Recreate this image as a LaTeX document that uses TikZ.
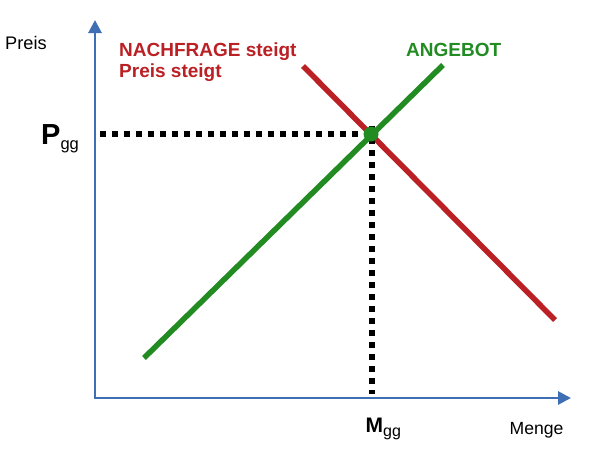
\documentclass[tikz,border=0pt]{standalone}
\usepackage{fontspec}
\setmainfont{Liberation Sans}
\usetikzlibrary{arrows.meta}
\definecolor{axisblue}{RGB}{62,110,180}
\definecolor{dred}{RGB}{186,32,36}
\definecolor{sgreen}{RGB}{34,139,34}
\begin{document}
\begin{tikzpicture}[x=1pt,y=-1pt,
  axis/.style={draw=axisblue,line width=2.8pt,-{Triangle[width=13pt,length=13pt]}},
  curve/.style={line width=5.5pt},
  dots/.style={draw=black,line width=5.8pt,dash pattern=on 6pt off 6pt},
  lbl/.style={inner sep=0pt,anchor=base west},
  redlbl/.style={lbl,font=\bfseries\fontsize{19}{21}\selectfont,text=dred}]
\useasboundingbox (0,0) rectangle (600,448);
\coordinate (O) at (95,398);
\coordinate (ytip) at (95,20);
\coordinate (xtip) at (571,398);
\draw[axis] (O) -- (ytip);
\draw[axis] ([xshift=-1.4pt]O) -- (xtip);
% demand
\coordinate (d1) at (303,66);
\coordinate (d2) at (555,320);
\draw[curve,dred] (d1) -- (d2);
% supply
\coordinate (s1) at (144,358);
\coordinate (s2) at (443,65);
\draw[curve,sgreen] (s1) -- (s2);
% equilibrium
\coordinate (E) at (371,134);
\coordinate (Py) at (100,134);
\coordinate (Mx) at (372,394);
\draw[dots] (Py) -- (E);
\draw[dots] ([xshift=1pt,yshift=8pt]E) -- (Mx);
\fill[sgreen] (E) circle (7.5pt);
% labels
\node[lbl,font=\fontsize{18.2}{20}\selectfont] (preis) at (5,49.5) {Preis};
\node[redlbl] (nf1) at (119,56.7) {NACHFRAGE steigt};
\node[redlbl] (nf2) at (119,77.3) {Preis steigt};
\node[lbl,font=\bfseries\fontsize{19}{21}\selectfont,text=sgreen] (ang) at (406,56) {ANGEBOT};
\node[lbl,font=\fontsize{29}{30}\selectfont] (pgg) at (41,144.5) {\textbf{P}\raisebox{-5pt}{\fontsize{16.5}{17}\selectfont gg}};
\node[lbl,font=\fontsize{21}{22}\selectfont] (mgg) at (365.5,432) {\textbf{M}\raisebox{-4pt}{\fontsize{16}{17}\selectfont gg}};
\node[lbl,font=\fontsize{17.6}{19}\selectfont] (menge) at (509.5,434) {Menge};
\end{tikzpicture}
\end{document}
